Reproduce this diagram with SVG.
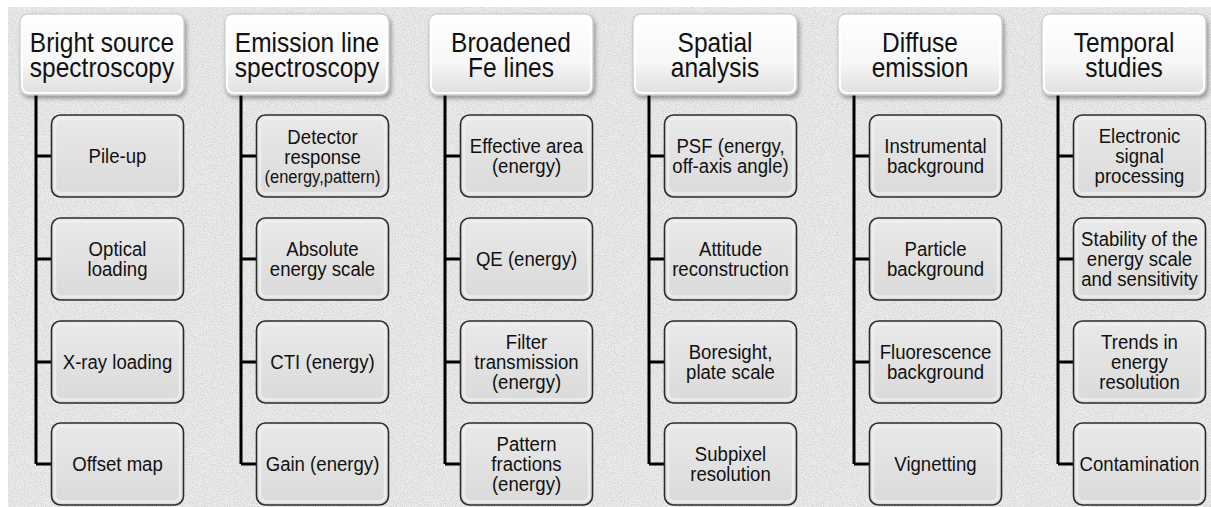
<svg xmlns="http://www.w3.org/2000/svg" width="1211" height="507" viewBox="0 0 1211 507">
  <style>
    .hdr rect.box { fill: url(#hdrFill); stroke: #c4c4c4; stroke-width: 1; filter: url(#shadow); }
    .hdr rect.gloss { fill: none; stroke: #ffffff; stroke-width: 2; opacity: 0.9; }
    .item rect.box { fill: url(#itemFill); stroke: #2b2b2b; stroke-width: 1.6; }
    .item rect.bevel { fill: none; stroke: #f2f2f2; stroke-width: 2.5; opacity: 0.7; }
    text { font-family: "Liberation Sans", Arial, Helvetica, sans-serif; fill: #111111; text-anchor: middle; }
    .hdr text { font-size: 24.5px; }
    .item text { font-size: 18.6px; }
    .item text.small { font-size: 16.5px; }
    .wire { fill: none; stroke: #000000; stroke-width: 3; }
  </style>
  <defs>
    <linearGradient id="hdrFill" x1="0" y1="0" x2="0" y2="1">
      <stop offset="0" stop-color="#ffffff"/>
      <stop offset="0.6" stop-color="#f7f7f7"/>
      <stop offset="1" stop-color="#dedede"/>
    </linearGradient>
    <linearGradient id="itemFill" x1="0" y1="0" x2="0" y2="1">
      <stop offset="0" stop-color="#e9e9e9"/>
      <stop offset="1" stop-color="#dadada"/>
    </linearGradient>
    <filter id="shadow" x="-10%" y="-10%" width="125%" height="135%">
      <feDropShadow dx="2" dy="3" stdDeviation="2" flood-color="#000000" flood-opacity="0.35"/>
    </filter>
    <filter id="paper" x="0" y="0" width="100%" height="100%">
      <feTurbulence type="fractalNoise" baseFrequency="0.9" numOctaves="2" seed="3" result="n"/>
      <feColorMatrix in="n" type="matrix" values="0 0 0 0 0.5  0 0 0 0 0.5  0 0 0 0 0.5  0 0 0 -1.8 1.1" result="g"/>
      <feComposite in="g" in2="SourceGraphic" operator="in"/>
    </filter>
  </defs>

  <!-- page and paper texture -->
  <rect x="0" y="0" width="1211" height="507" fill="#ffffff"/>
  <rect x="8" y="7" width="1203" height="500" fill="#ececec"/>
  <rect x="8" y="7" width="1203" height="500" fill="#ececec" filter="url(#paper)" opacity="0.7"/>

  <!-- tree connectors: one spine per column with a branch to each item -->
  <g id="connectors" class="wire">
    <path d="M36 95 V464 M36 156 H51.5 M36 259 H51.5 M36 362 H51.5 M36 464 H51.5"/>
    <path d="M241 95 V464 M241 156 H256.5 M241 259 H256.5 M241 362 H256.5 M241 464 H256.5"/>
    <path d="M445 95 V464 M445 156 H460.5 M445 259 H460.5 M445 362 H460.5 M445 464 H460.5"/>
    <path d="M649 95 V464 M649 156 H664.5 M649 259 H664.5 M649 362 H664.5 M649 464 H664.5"/>
    <path d="M854 95 V464 M854 156 H869.5 M854 259 H869.5 M854 362 H869.5 M854 464 H869.5"/>
    <path d="M1058 95 V464 M1058 156 H1073.5 M1058 259 H1073.5 M1058 362 H1073.5 M1058 464 H1073.5"/>
  </g>

  <!-- labels use a slightly tall type: each line is placed by translate + vertical scale -->

  <!-- column 1 -->
  <g id="bright-source" class="hdr">
    <rect class="box" x="20" y="14" width="164" height="81" rx="8"/>
    <rect class="gloss" x="22" y="16" width="160" height="77" rx="7"/>
    <text transform="matrix(1 0 0 1.15 102 52)">Bright source</text>
    <text transform="matrix(1 0 0 1.15 102 76.5)">spectroscopy</text>
  </g>
  <g id="pile-up" class="item">
    <rect class="box" x="51.5" y="115" width="132" height="82" rx="9"/>
    <rect class="bevel" x="55" y="118.5" width="125" height="75" rx="6"/>
    <text transform="matrix(1 0 0 1.12 117.5 163)">Pile-up</text>
  </g>
  <g id="optical-loading" class="item">
    <rect class="box" x="51.5" y="218" width="132" height="82" rx="9"/>
    <rect class="bevel" x="55" y="221.5" width="125" height="75" rx="6"/>
    <text transform="matrix(1 0 0 1.12 117.5 256)">Optical</text>
    <text transform="matrix(1 0 0 1.12 117.5 276)">loading</text>
  </g>
  <g id="xray-loading" class="item">
    <rect class="box" x="51.5" y="321" width="132" height="82" rx="9"/>
    <rect class="bevel" x="55" y="324.5" width="125" height="75" rx="6"/>
    <text transform="matrix(1 0 0 1.12 117.5 369)">X-ray loading</text>
  </g>
  <g id="offset-map" class="item">
    <rect class="box" x="51.5" y="423" width="132" height="82" rx="9"/>
    <rect class="bevel" x="55" y="426.5" width="125" height="75" rx="6"/>
    <text transform="matrix(1 0 0 1.12 117.5 471)">Offset map</text>
  </g>

  <!-- column 2 -->
  <g id="emission-line" class="hdr">
    <rect class="box" x="225" y="14" width="164" height="81" rx="8"/>
    <rect class="gloss" x="227" y="16" width="160" height="77" rx="7"/>
    <text transform="matrix(1 0 0 1.15 307 52)">Emission line</text>
    <text transform="matrix(1 0 0 1.15 307 76.5)">spectroscopy</text>
  </g>
  <g id="detector-response" class="item">
    <rect class="box" x="256.5" y="115" width="132" height="82" rx="9"/>
    <rect class="bevel" x="260" y="118.5" width="125" height="75" rx="6"/>
    <text transform="matrix(1 0 0 1.12 322.5 144)">Detector</text>
    <text transform="matrix(1 0 0 1.12 322.5 164)">response</text>
    <text class="small" transform="matrix(1 0 0 1.12 322.5 183)">(energy,pattern)</text>
  </g>
  <g id="absolute-energy-scale" class="item">
    <rect class="box" x="256.5" y="218" width="132" height="82" rx="9"/>
    <rect class="bevel" x="260" y="221.5" width="125" height="75" rx="6"/>
    <text transform="matrix(1 0 0 1.12 322.5 256)">Absolute</text>
    <text transform="matrix(1 0 0 1.12 322.5 276)">energy scale</text>
  </g>
  <g id="cti" class="item">
    <rect class="box" x="256.5" y="321" width="132" height="82" rx="9"/>
    <rect class="bevel" x="260" y="324.5" width="125" height="75" rx="6"/>
    <text transform="matrix(1 0 0 1.12 322.5 369)">CTI (energy)</text>
  </g>
  <g id="gain" class="item">
    <rect class="box" x="256.5" y="423" width="132" height="82" rx="9"/>
    <rect class="bevel" x="260" y="426.5" width="125" height="75" rx="6"/>
    <text transform="matrix(1 0 0 1.12 322.5 471)">Gain (energy)</text>
  </g>

  <!-- column 3 -->
  <g id="broadened-fe" class="hdr">
    <rect class="box" x="429" y="14" width="164" height="81" rx="8"/>
    <rect class="gloss" x="431" y="16" width="160" height="77" rx="7"/>
    <text transform="matrix(1 0 0 1.15 511 52)">Broadened</text>
    <text transform="matrix(1 0 0 1.15 511 76.5)">Fe lines</text>
  </g>
  <g id="effective-area" class="item">
    <rect class="box" x="460.5" y="115" width="132" height="82" rx="9"/>
    <rect class="bevel" x="464" y="118.5" width="125" height="75" rx="6"/>
    <text transform="matrix(1 0 0 1.12 526.5 153)">Effective area</text>
    <text transform="matrix(1 0 0 1.12 526.5 173)">(energy)</text>
  </g>
  <g id="qe" class="item">
    <rect class="box" x="460.5" y="218" width="132" height="82" rx="9"/>
    <rect class="bevel" x="464" y="221.5" width="125" height="75" rx="6"/>
    <text transform="matrix(1 0 0 1.12 526.5 266)">QE (energy)</text>
  </g>
  <g id="filter-transmission" class="item">
    <rect class="box" x="460.5" y="321" width="132" height="82" rx="9"/>
    <rect class="bevel" x="464" y="324.5" width="125" height="75" rx="6"/>
    <text transform="matrix(1 0 0 1.12 526.5 349)">Filter</text>
    <text transform="matrix(1 0 0 1.12 526.5 369)">transmission</text>
    <text transform="matrix(1 0 0 1.12 526.5 389)">(energy)</text>
  </g>
  <g id="pattern-fractions" class="item">
    <rect class="box" x="460.5" y="423" width="132" height="82" rx="9"/>
    <rect class="bevel" x="464" y="426.5" width="125" height="75" rx="6"/>
    <text transform="matrix(1 0 0 1.12 526.5 451)">Pattern</text>
    <text transform="matrix(1 0 0 1.12 526.5 471)">fractions</text>
    <text transform="matrix(1 0 0 1.12 526.5 491)">(energy)</text>
  </g>

  <!-- column 4 -->
  <g id="spatial-analysis" class="hdr">
    <rect class="box" x="633" y="14" width="164" height="81" rx="8"/>
    <rect class="gloss" x="635" y="16" width="160" height="77" rx="7"/>
    <text transform="matrix(1 0 0 1.15 715 52)">Spatial</text>
    <text transform="matrix(1 0 0 1.15 715 76.5)">analysis</text>
  </g>
  <g id="psf" class="item">
    <rect class="box" x="664.5" y="115" width="132" height="82" rx="9"/>
    <rect class="bevel" x="668" y="118.5" width="125" height="75" rx="6"/>
    <text transform="matrix(1 0 0 1.12 730.5 153)">PSF (energy,</text>
    <text transform="matrix(1 0 0 1.12 730.5 173)">off-axis angle)</text>
  </g>
  <g id="attitude" class="item">
    <rect class="box" x="664.5" y="218" width="132" height="82" rx="9"/>
    <rect class="bevel" x="668" y="221.5" width="125" height="75" rx="6"/>
    <text transform="matrix(1 0 0 1.12 730.5 256)">Attitude</text>
    <text transform="matrix(1 0 0 1.12 730.5 276)">reconstruction</text>
  </g>
  <g id="boresight" class="item">
    <rect class="box" x="664.5" y="321" width="132" height="82" rx="9"/>
    <rect class="bevel" x="668" y="324.5" width="125" height="75" rx="6"/>
    <text transform="matrix(1 0 0 1.12 730.5 359)">Boresight,</text>
    <text transform="matrix(1 0 0 1.12 730.5 379)">plate scale</text>
  </g>
  <g id="subpixel" class="item">
    <rect class="box" x="664.5" y="423" width="132" height="82" rx="9"/>
    <rect class="bevel" x="668" y="426.5" width="125" height="75" rx="6"/>
    <text transform="matrix(1 0 0 1.12 730.5 461)">Subpixel</text>
    <text transform="matrix(1 0 0 1.12 730.5 481)">resolution</text>
  </g>

  <!-- column 5 -->
  <g id="diffuse-emission" class="hdr">
    <rect class="box" x="838" y="14" width="164" height="81" rx="8"/>
    <rect class="gloss" x="840" y="16" width="160" height="77" rx="7"/>
    <text transform="matrix(1 0 0 1.15 920 52)">Diffuse</text>
    <text transform="matrix(1 0 0 1.15 920 76.5)">emission</text>
  </g>
  <g id="instrumental-bg" class="item">
    <rect class="box" x="869.5" y="115" width="132" height="82" rx="9"/>
    <rect class="bevel" x="873" y="118.5" width="125" height="75" rx="6"/>
    <text transform="matrix(1 0 0 1.12 935.5 153)">Instrumental</text>
    <text transform="matrix(1 0 0 1.12 935.5 173)">background</text>
  </g>
  <g id="particle-bg" class="item">
    <rect class="box" x="869.5" y="218" width="132" height="82" rx="9"/>
    <rect class="bevel" x="873" y="221.5" width="125" height="75" rx="6"/>
    <text transform="matrix(1 0 0 1.12 935.5 256)">Particle</text>
    <text transform="matrix(1 0 0 1.12 935.5 276)">background</text>
  </g>
  <g id="fluorescence-bg" class="item">
    <rect class="box" x="869.5" y="321" width="132" height="82" rx="9"/>
    <rect class="bevel" x="873" y="324.5" width="125" height="75" rx="6"/>
    <text transform="matrix(1 0 0 1.12 935.5 359)">Fluorescence</text>
    <text transform="matrix(1 0 0 1.12 935.5 379)">background</text>
  </g>
  <g id="vignetting" class="item">
    <rect class="box" x="869.5" y="423" width="132" height="82" rx="9"/>
    <rect class="bevel" x="873" y="426.5" width="125" height="75" rx="6"/>
    <text transform="matrix(1 0 0 1.12 935.5 471)">Vignetting</text>
  </g>

  <!-- column 6 -->
  <g id="temporal-studies" class="hdr">
    <rect class="box" x="1042" y="14" width="164" height="81" rx="8"/>
    <rect class="gloss" x="1044" y="16" width="160" height="77" rx="7"/>
    <text transform="matrix(1 0 0 1.15 1124 52)">Temporal</text>
    <text transform="matrix(1 0 0 1.15 1124 76.5)">studies</text>
  </g>
  <g id="signal-processing" class="item">
    <rect class="box" x="1073.5" y="115" width="132" height="82" rx="9"/>
    <rect class="bevel" x="1077" y="118.5" width="125" height="75" rx="6"/>
    <text transform="matrix(1 0 0 1.12 1139.5 143)">Electronic</text>
    <text transform="matrix(1 0 0 1.12 1139.5 163)">signal</text>
    <text transform="matrix(1 0 0 1.12 1139.5 183)">processing</text>
  </g>
  <g id="stability" class="item">
    <rect class="box" x="1073.5" y="218" width="132" height="82" rx="9"/>
    <rect class="bevel" x="1077" y="221.5" width="125" height="75" rx="6"/>
    <text transform="matrix(1 0 0 1.12 1139.5 246)">Stability of the</text>
    <text transform="matrix(1 0 0 1.12 1139.5 266)">energy scale</text>
    <text transform="matrix(1 0 0 1.12 1139.5 286)">and sensitivity</text>
  </g>
  <g id="energy-resolution" class="item">
    <rect class="box" x="1073.5" y="321" width="132" height="82" rx="9"/>
    <rect class="bevel" x="1077" y="324.5" width="125" height="75" rx="6"/>
    <text transform="matrix(1 0 0 1.12 1139.5 349)">Trends in</text>
    <text transform="matrix(1 0 0 1.12 1139.5 369)">energy</text>
    <text transform="matrix(1 0 0 1.12 1139.5 389)">resolution</text>
  </g>
  <g id="contamination" class="item">
    <rect class="box" x="1073.5" y="423" width="132" height="82" rx="9"/>
    <rect class="bevel" x="1077" y="426.5" width="125" height="75" rx="6"/>
    <text transform="matrix(1 0 0 1.12 1139.5 471)">Contamination</text>
  </g>
</svg>
